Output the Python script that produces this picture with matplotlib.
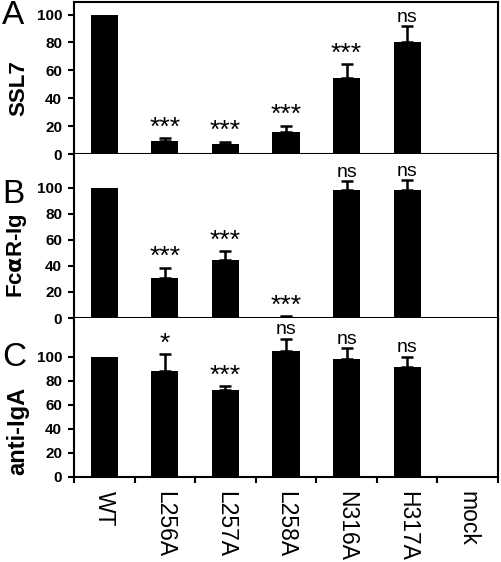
import numpy as np
from matplotlib import pyplot as plt

plt.rcParams['font.family'] = ['Liberation Sans', 'DejaVu Sans']

categorie = ["WT", "L256A", "L257A", "L258A", "N316A", "H317A", "mock"]

# valori (media) e errore superiore per ogni pannello
ssl7 = [100, 9.4, 7.0, 16.0, 54.5, 80.4, 0]
ssl7_err = [0, 2.1, 1.8, 4.4, 10.0, 11.6, 0]
ssl7_sig = ["", "***", "***", "***", "***", "ns", ""]

fca = [100, 30.5, 44.4, 1.0, 98.0, 98.0, 0]
fca_err = [0, 8.2, 6.9, 0.5, 7.5, 8.0, 0]
fca_sig = ["", "***", "***", "***", "ns", "ns", ""]

iga = [100, 87.8, 71.9, 104.4, 98.3, 91.5, 0]
iga_err = [0, 14.2, 3.6, 10.5, 8.7, 8.5, 0]
iga_sig = ["", "*", "***", "ns", "ns", "ns", ""]

pannelli = [
    ("A", "SSL7", ssl7, ssl7_err, ssl7_sig, 109),
    ("B", r"Fc$\mathbf{\alpha}$R-Ig", fca, fca_err, fca_sig, 126),
    ("C", "anti-IgA", iga, iga_err, iga_sig, 132),
]

# posizioni in pixel su figura 501x562
W, H = 501, 562
righe = [(2, 154), (154, 318), (318, 477)]   # (top, bottom) di ogni pannello
lettere_y = [16, 195, 357]
label_y = [88, 256, 431]                      # centro etichetta asse y
label_fs = [16, 16, 17]
x0, x1 = 74, 498

fig = plt.figure(figsize=(W / 100, H / 100), dpi=100)
x = np.arange(len(categorie))

for i, (lettera, ylab, val, err, sig, ytop) in enumerate(pannelli):
    top, bot = righe[i]
    ax = fig.add_axes([x0 / W, 1 - bot / H, (x1 - x0) / W, (bot - top) / H])
    ax.bar(x, val, width=0.45, color='black', zorder=2)
    e = np.array(err)
    mask = e > 0
    ax.errorbar(x[mask], np.array(val)[mask], yerr=[np.zeros(mask.sum()), e[mask]],
                fmt='none', ecolor='black', elinewidth=1.8, capsize=4.5, capthick=1.8, zorder=1)
    for xi, v, er, s in zip(x, val, err, sig):
        if s:
            stella = s.startswith("*")
            ax.annotate(s, (xi, v + er), xytext=(0, 2.5 if stella else 3), textcoords='offset points',
                        ha='center', va='baseline', fontsize=19 if stella else 14)
    ax.set_xlim(-0.5, len(categorie) - 0.5)
    ax.set_ylim(0, ytop)
    ax.set_yticks([0, 20, 40, 60, 80, 100])
    ax.set_xticks(np.arange(len(categorie) + 1) - 0.5)
    ax.set_xticklabels([])
    ax.tick_params(axis='both', direction='out', length=4.5, width=1.5)
    ax.tick_params(axis='y', labelsize=11, pad=4)
    for lab in ax.get_yticklabels():
        lab.set_fontweight('bold')
    for sp in ax.spines.values():
        sp.set_linewidth(1.5)
    if i > 0:
        ax.spines['top'].set_visible(False)
    ax.set_ylabel(ylab, fontsize=label_fs[i], fontweight='bold')
    ax.yaxis.set_label_coords((29 - x0) / (x1 - x0), (bot - label_y[i]) / (bot - top))
    fig.text(2 / W, 1 - lettere_y[i] / H, lettera, fontsize=24, ha='left', va='center')
    if i == 2:
        for xi, c in zip(x, categorie):
            ax.text(xi, -0.09, c, transform=ax.get_xaxis_transform(), rotation=270,
                    ha='center', va='top', fontsize=16.5)

plt.savefig("out.png", dpi=100)
